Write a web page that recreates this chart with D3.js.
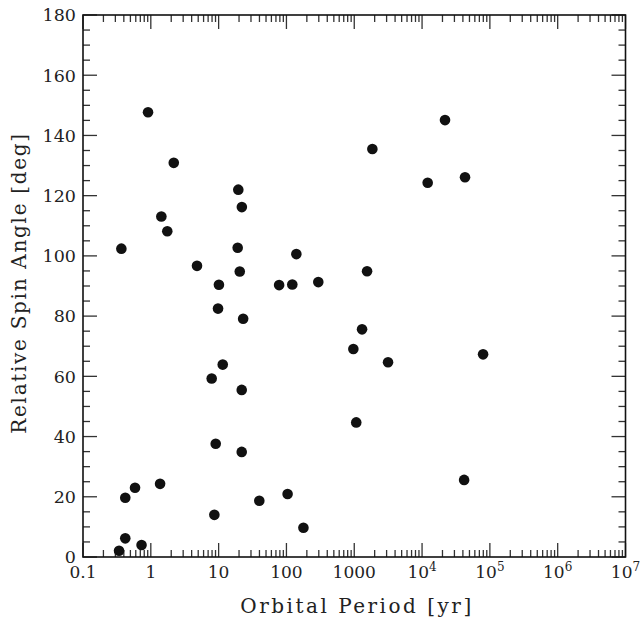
<!DOCTYPE html>
<html>
<head>
<meta charset="utf-8">
<script src="https://cdn.jsdelivr.net/npm/d3@7"></script>
<style>
  body { margin: 0; background: #fff; }
  text { font-family: "DejaVu Serif", serif; fill: #222; }
</style>
</head>
<body>
<div id="chart"></div>
<script>
// periodos orbitais [yr] e angulos relativos [deg]
var periods = [0.34, 0.42, 0.73, 0.42, 0.585, 1.37, 0.368, 0.91, 2.18, 1.43, 1.75,
    4.8, 10.1, 9.8, 19.5, 22, 19.1, 20.5, 23, 78, 122, 295, 140,
    11.5, 7.9, 21.9, 9.06, 21.9, 8.65, 39.8, 104, 178,
    970, 1070, 1303, 1545, 1850, 3150, 12100, 21800, 43000, 79400, 41700];
var angles = [2.1, 6.2, 4.0, 19.7, 23.0, 24.3, 102.4, 147.7, 130.9, 113.1, 108.2,
    96.7, 90.4, 82.5, 122.0, 116.2, 102.7, 94.8, 79.1, 90.3, 90.5, 91.3, 100.6,
    63.9, 59.3, 55.5, 37.6, 34.9, 14.0, 18.7, 20.9, 9.7,
    69.1, 44.7, 75.6, 94.9, 135.5, 64.7, 124.3, 145.1, 126.1, 67.3, 25.6];

var xTickValues = [0.1, 1, 10, 100, 1000, 1e4, 1e5, 1e6, 1e7];
var xTickLabels = ["0.1", "1", "10", "100", "1000", "10|4", "10|5", "10|6", "10|7"];
var yTickValues = [0, 20, 40, 60, 80, 100, 120, 140, 160, 180];

var width = 640, height = 617;
var margin = { left: 83, right: 14.5, top: 15, bottom: 60 };

var svg = d3.select("#chart").append("svg")
    .attr("width", width)
    .attr("height", height);

var x = d3.scaleLog()
    .domain([0.1, 1e7])
    .range([margin.left, width - margin.right]);

var y = d3.scaleLinear()
    .domain([0, 180])
    .range([height - margin.bottom, margin.top]);

var x0 = x.range()[0], x1 = x.range()[1];
var y0 = y.range()[0], y1 = y.range()[1];

var majorLen = 14, minorLen = 7;
var tickColor = "#333";

// ticks menores do eixo x (2..9 em cada decada)
var xMinor = [];
for (var e = -1; e < 7; e++) {
    for (var k = 2; k <= 9; k++) xMinor.push(k * Math.pow(10, e));
}
var yMinor = d3.range(0, 181, 5).filter(d => d % 20 !== 0);

var ticks = svg.append("g").attr("stroke", tickColor).attr("stroke-width", 1.3);

function xTicks(vals, len) {
    vals.forEach(function (v) {
        ticks.append("line").attr("x1", x(v)).attr("x2", x(v)).attr("y1", y0).attr("y2", y0 - len);
        ticks.append("line").attr("x1", x(v)).attr("x2", x(v)).attr("y1", y1).attr("y2", y1 + len);
    });
}
function yTicks(vals, len) {
    vals.forEach(function (v) {
        ticks.append("line").attr("y1", y(v)).attr("y2", y(v)).attr("x1", x0).attr("x2", x0 + len);
        ticks.append("line").attr("y1", y(v)).attr("y2", y(v)).attr("x1", x1).attr("x2", x1 - len);
    });
}
xTicks(xMinor, minorLen);
xTicks(xTickValues, majorLen);
yTicks(yMinor, minorLen);
yTicks(yTickValues, majorLen);

// moldura
svg.append("rect")
    .attr("x", x0).attr("y", y1)
    .attr("width", x1 - x0).attr("height", y0 - y1)
    .attr("fill", "none")
    .attr("stroke", "#111")
    .attr("stroke-width", 1.6);

// rotulos do eixo x
var xl = svg.append("g").attr("font-size", 17).attr("text-anchor", "middle");
xTickValues.forEach(function (v, i) {
    var parts = xTickLabels[i].split("|");
    var t = xl.append("text").attr("x", x(v)).attr("y", y0 + 21);
    t.append("tspan").text(parts[0]);
    if (parts[1]) {
        t.append("tspan").attr("font-size", 12).attr("dy", -7).text(parts[1]);
    }
});

// rotulos do eixo y
svg.append("g").attr("font-size", 17.5).attr("text-anchor", "end")
    .selectAll("text")
    .data(yTickValues)
    .join("text")
    .attr("x", x0 - 7)
    .attr("y", d => y(d))
    .attr("dy", "0.36em")
    .text(d => d);

// titulos
svg.append("text")
    .attr("x", 357)
    .attr("y", 613)
    .attr("text-anchor", "middle")
    .attr("font-size", 20)
    .attr("letter-spacing", 2.5)
    .text("Orbital Period [yr]");

svg.append("text")
    .attr("transform", "translate(26, 283) rotate(-90)")
    .attr("text-anchor", "middle")
    .attr("font-size", 20)
    .attr("letter-spacing", 1.7)
    .text("Relative Spin Angle [deg]");

// pontos
svg.append("g")
    .selectAll("circle")
    .data(periods.map((p, i) => [p, angles[i]]))
    .join("circle")
    .attr("cx", d => x(d[0]))
    .attr("cy", d => y(d[1]))
    .attr("r", 5.3)
    .attr("fill", "#111");
</script>
</body>
</html>
